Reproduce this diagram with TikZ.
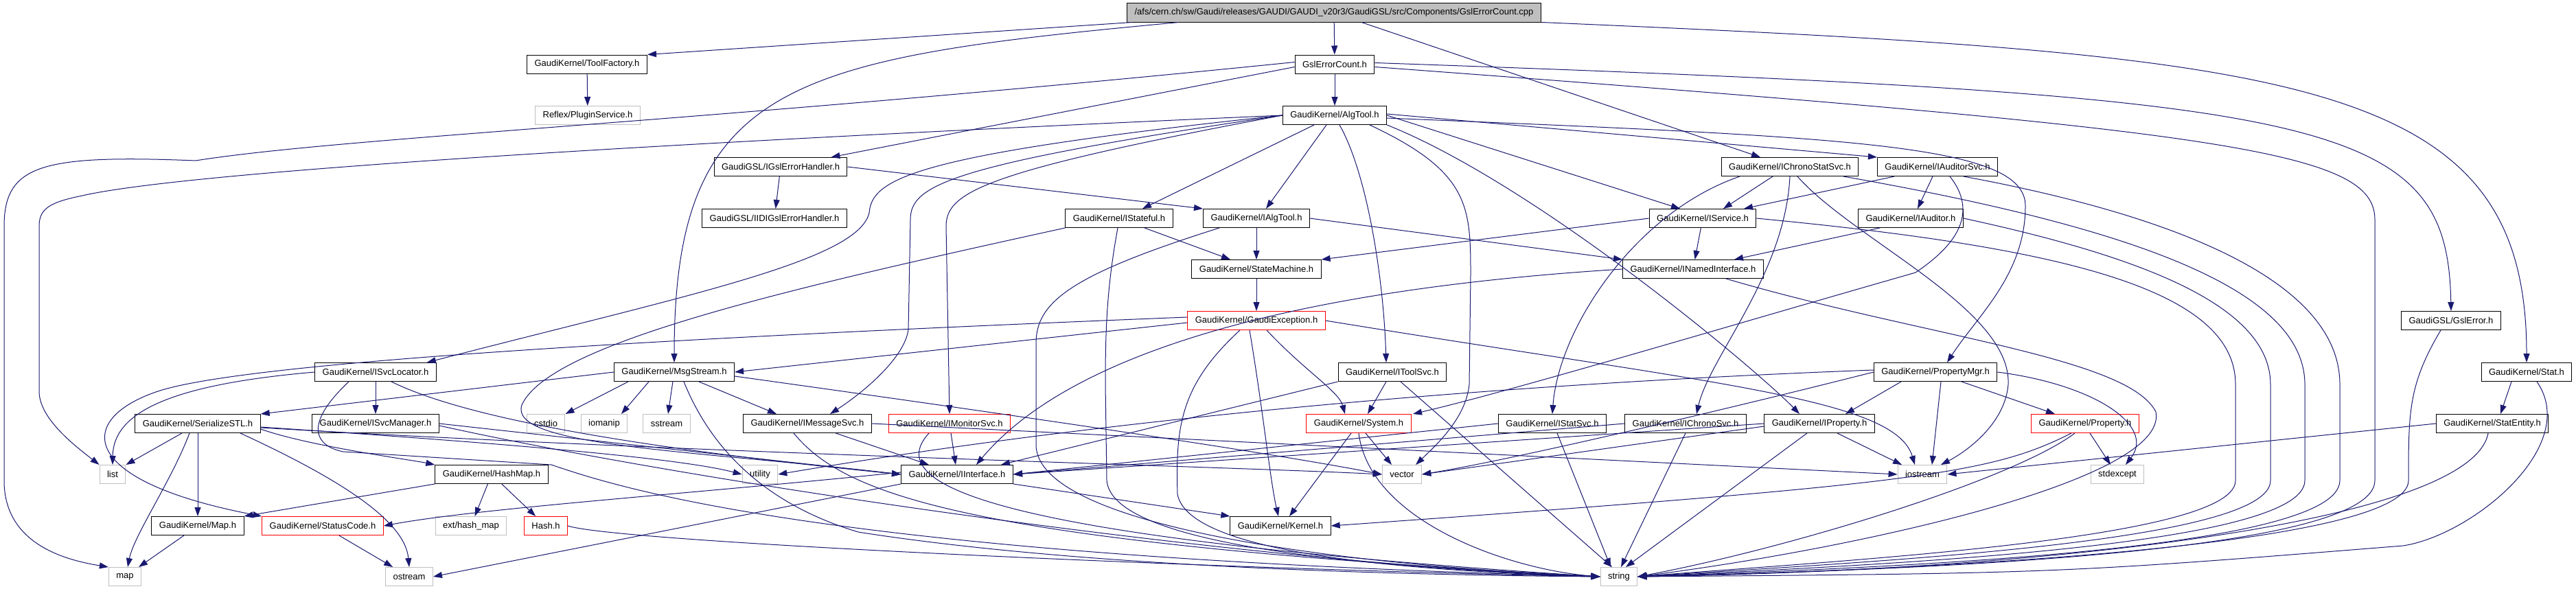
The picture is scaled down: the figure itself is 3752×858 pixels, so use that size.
\documentclass[tikz,border=0pt]{standalone}
\usepackage{fontspec}
\setmainfont{Liberation Sans}
\usetikzlibrary{arrows.meta}
\definecolor{dxedge}{HTML}{191970}
\definecolor{dxgray}{HTML}{BFBFBF}
\begin{document}
\begin{tikzpicture}[x=1bp,y=-1bp,
		hdr/.style={draw=black, line width=1bp, inner xsep=11bp, inner ysep=0pt, minimum height=27bp, font=\fontsize{13bp}{15bp}\selectfont},
		sys/.style={hdr, draw=dxgray},
		trunc/.style={hdr, draw=red},
		topfile/.style={hdr, fill=dxgray},
		inc/.style={draw=dxedge, line width=1bp, -{Triangle[length=13bp,width=9bp]}}
		]
	\fill[white] (0,0) rectangle (3752,858);
	\useasboundingbox (0,0) rectangle (3752,858);
	\node[topfile] (root) at (1943,18.5) {/afs/cern.ch/sw/Gaudi/releases/GAUDI/GAUDI\_v20r3/GaudiGSL/src/Components/GslErrorCount.cpp};
	\node[hdr] (toolfac) at (855,93.5) {GaudiKernel/ToolFactory.h};
	\node[hdr] (gslcnt) at (1944,93.5) {GslErrorCount.h};
	\node[sys] (plugin) at (856,168) {Reflex/PluginService.h};
	\node[hdr] (algtool) at (1944,168) {GaudiKernel/AlgTool.h};
	\node[hdr] (igslh) at (1137,243) {GaudiGSL/IGslErrorHandler.h};
	\node[hdr] (ichronostat) at (2607,243) {GaudiKernel/IChronoStatSvc.h};
	\node[hdr] (iauditorsvc) at (2822,243) {GaudiKernel/IAuditorSvc.h};
	\node[hdr] (iidigslh) at (1128,318) {GaudiGSL/IIDIGslErrorHandler.h};
	\node[hdr] (istateful) at (1630,318) {GaudiKernel/IStateful.h};
	\node[hdr] (ialgtool) at (1830,318) {GaudiKernel/IAlgTool.h};
	\node[hdr] (iservice) at (2480,318) {GaudiKernel/IService.h};
	\node[hdr] (iauditor) at (2783,318) {GaudiKernel/IAuditor.h};
	\node[hdr] (statemach) at (1830,392) {GaudiKernel/StateMachine.h};
	\node[hdr] (inamed) at (2466,392) {GaudiKernel/INamedInterface.h};
	\node[trunc] (gaudiexc) at (1830,467) {GaudiKernel/GaudiException.h};
	\node[hdr] (gslerror) at (3570,467) {GaudiGSL/GslError.h};
	\node[hdr] (isvcloc) at (547,542) {GaudiKernel/ISvcLocator.h};
	\node[hdr] (msgstream) at (982,542) {GaudiKernel/MsgStream.h};
	\node[hdr] (itoolsvc) at (2028,542) {GaudiKernel/IToolSvc.h};
	\node[hdr] (propmgr) at (2819,542) {GaudiKernel/PropertyMgr.h};
	\node[hdr] (stat) at (3680,542) {GaudiKernel/Stat.h};
	\node[hdr] (serial) at (288,617) {GaudiKernel/SerializeSTL.h};
	\node[hdr] (isvcmgr) at (547,617) {GaudiKernel/ISvcManager.h};
	\node[sys] (cstdio) at (795,617) {cstdio};
	\node[sys] (iomanip) at (880,617) {iomanip};
	\node[sys] (sstream) at (971,617) {sstream};
	\node[hdr] (imsgsvc) at (1176,617) {GaudiKernel/IMessageSvc.h};
	\node[trunc] (imonsvc) at (1383,617) {GaudiKernel/IMonitorSvc.h};
	\node[trunc] (system) at (1979,617) {GaudiKernel/System.h};
	\node[hdr] (istatsvc) at (2261,617) {GaudiKernel/IStatSvc.h};
	\node[hdr] (ichronosvc) at (2455,617) {GaudiKernel/IChronoSvc.h};
	\node[hdr] (iproperty) at (2650,617) {GaudiKernel/IProperty.h};
	\node[trunc] (property) at (3037,617) {GaudiKernel/Property.h};
	\node[hdr] (statentity) at (3630,617) {GaudiKernel/StatEntity.h};
	\node[sys] (list) at (164,691) {list};
	\node[hdr] (hashmap) at (716,691) {GaudiKernel/HashMap.h};
	\node[sys] (utility) at (1107,691) {utility};
	\node[hdr] (iinterface) at (1394,691) {GaudiKernel/IInterface.h};
	\node[sys] (vector) at (2042,691) {vector};
	\node[sys] (iostream) at (2800,691) {iostream};
	\node[sys] (stdexcept) at (3084,691) {stdexcept};
	\node[hdr] (mapx) at (288,766) {GaudiKernel/Map.h};
	\node[trunc] (statuscode) at (470,766) {GaudiKernel/StatusCode.h};
	\node[sys] (hashext) at (686,766) {ext/hash\_map};
	\node[trunc] (hash) at (795,766) {Hash.h};
	\node[hdr] (kernel) at (1865,766) {GaudiKernel/Kernel.h};
	\node[sys] (map) at (182,840) {map};
	\node[sys] (ostream) at (596,840) {ostream};
	\node[sys] (string) at (2358,840) {string};
	\draw[inc] ([xshift=8bp]root.south west) -- (toolfac.north east);
	\draw[inc] (root) -- (gslcnt);
	\draw[inc] ([xshift=76bp]root.south west) .. controls (1150,85) and (982,120) .. (msgstream.north);
	\draw[inc] ([xshift=40bp]root.south) -- ([xshift=-43bp]ichronostat.north);
	\draw[inc] (root.south east) .. controls (3350,80) and (3680,110) .. (stat.north);
	\draw[inc] (toolfac) -- (plugin);
	\draw[inc] (gslcnt) -- (algtool);
	\draw[inc] ([yshift=-4bp]gslcnt.west) -- ([xshift=-24bp]igslh.north east);
	\draw[inc] ([yshift=3bp]gslcnt.west) .. controls (1000,180) and (500,200) .. (285,234) .. controls (60,225) and (6,240) .. (6,330) -- (6,700) .. controls (6,790) and (90,815) .. (map.north west);
	\draw[inc] ([yshift=2bp]gslcnt.east) .. controls (3400,140) and (3565,170) .. (gslerror.north);
	\draw[inc] ([yshift=-4bp]gslcnt.east) .. controls (3250,190) and (3459,220) .. (3459,320) -- (3459,700) .. controls (3459,805) and (2800,830) .. (string.east);
	\draw[inc] (algtool.west) .. controls (800,215) and (250,255) .. (120,285) .. controls (70,295) and (57,305) .. (57,330) -- (57,570) .. controls (57,610) and (110,650) .. (list.north west);
	\draw[inc] (algtool.west) .. controls (1330,225) and (1270,260) .. (1266,310) .. controls (1250,380) and (1000,430) .. ([xshift=-14bp]isvcloc.north east);
	\draw[inc] (algtool.west) .. controls (1380,240) and (1326,270) .. (1326,320) -- (1323,480) .. controls (1318,520) and (1260,570) .. ([xshift=33bp]imsgsvc.north);
	\draw[inc] (algtool.west) .. controls (1430,250) and (1378,280) .. (1378,330) -- (imonsvc.north);
	\draw[inc] ([xshift=-30bp]algtool.south) -- ([xshift=34bp]istateful.north);
	\draw[inc] ([xshift=-12bp]algtool.south) -- ([xshift=14bp]ialgtool.north);
	\draw[inc] ([xshift=7bp]algtool.south) .. controls (1990,250) and (2015,400) .. ([xshift=-9bp]itoolsvc.north);
	\draw[inc] ([xshift=51bp]algtool.south) .. controls (2140,250) and (2142,300) .. (2142,400) -- (2140,560) .. controls (2135,610) and (2090,650) .. ([xshift=20bp]vector.north);
	\draw[inc] (algtool.south east) .. controls (2240,270) and (2560,540) .. ([xshift=-29bp]iproperty.north);
	\draw[inc] (algtool.east) -- ([xshift=-33bp]iservice.north);
	\draw[inc] ([yshift=2bp]algtool.east) -- (iauditorsvc.north west);
	\draw[inc] ([yshift=-4bp]algtool.east) .. controls (2700,200) and (2950,210) .. (2950,300) .. controls (2950,400) and (2880,460) .. ([xshift=17bp]propmgr.north);
	\draw[inc] (igslh) -- (iidigslh);
	\draw[inc] (igslh.east) -- (ialgtool.north west);
	\draw[inc] ([xshift=-73bp]ichronostat.south) .. controls (2380,310) and (2270,480) .. (istatsvc.north);
	\draw[inc] ([xshift=-25bp]ichronostat.south) -- ([xshift=30bp]iservice.north);
	\draw[inc] (ichronostat.south) .. controls (2600,400) and (2490,520) .. ([xshift=16bp]ichronosvc.north);
	\draw[inc] ([xshift=11bp]ichronostat.south) .. controls (2700,350) and (2930,450) .. (2925,560) .. controls (2920,620) and (2860,660) .. ([xshift=27bp]iostream.north);
	\draw[inc] ([xshift=78bp]ichronostat.south) .. controls (3100,330) and (3357,420) .. (3357,560) -- (3357,700) .. controls (3357,795) and (2760,822) .. (string.east);
	\draw[inc] ([xshift=-63bp]iauditorsvc.south) -- ([xshift=60bp]iservice.north);
	\draw[inc] ([xshift=-7bp]iauditorsvc.south) -- ([xshift=10bp]iauditor.north);
	\draw[inc] ([xshift=18bp]iauditorsvc.south) .. controls (2890,320) and (2830,370) .. (2790,397) .. controls (2500,480) and (2200,570) .. ([xshift=79bp]system.north);
	\draw[inc] ([xshift=38bp]iauditorsvc.south) .. controls (3200,320) and (3408,420) .. (3408,560) -- (3408,700) .. controls (3408,800) and (2780,826) .. (string.east);
	\draw[inc] (iservice) -- (inamed);
	\draw[inc] (iservice.west) -- (statemach.north east);
	\draw[inc] (iservice.east) .. controls (3000,360) and (3256,420) .. (3256,560) -- (3256,700) .. controls (3256,785) and (2700,815) .. (string.east);
	\draw[inc] ([xshift=-45bp]iauditor.south) -- ([xshift=60bp]inamed.north);
	\draw[inc] (iauditor.east) .. controls (3100,370) and (3307,440) .. (3307,560) -- (3307,700) .. controls (3307,790) and (2730,818) .. (string.east);
	\draw[inc] (ialgtool) -- (statemach);
	\draw[inc] (ialgtool.east) -- (inamed.north west);
	\draw[inc] ([xshift=-54bp]ialgtool.south) .. controls (1560,400) and (1509,440) .. (1509,500) -- (1509,650) .. controls (1515,760) and (1900,820) .. (string.west);
	\draw[inc] ([xshift=37bp]istateful.south) -- ([xshift=-38bp]statemach.north);
	\draw[inc] (istateful.south west) .. controls (1150,420) and (800,500) .. (760,590) .. controls (740,650) and (1000,655) .. (iinterface.west);
	\draw[inc] ([xshift=-2bp]istateful.south) .. controls (1612,420) and (1610,480) .. (1610,560) -- (1612,700) .. controls (1620,790) and (1950,825) .. (string.west);
	\draw[inc] (statemach) -- (gaudiexc);
	\draw[inc] ([yshift=-3bp]gaudiexc.west) -- (msgstream.east);
	\draw[inc] ([yshift=5bp]gaudiexc.west) .. controls (900,495) and (350,530) .. (230,570) .. controls (110,610) and (110,700) .. (statuscode.north west);
	\draw[inc] ([xshift=-10bp]gaudiexc.south) .. controls (1840,600) and (1850,700) .. ([xshift=-3bp]kernel.north);
	\draw[inc] ([xshift=15bp]gaudiexc.south) .. controls (1900,540) and (1950,570) .. ([xshift=-20bp]system.north);
	\draw[inc] (gaudiexc.east) .. controls (2500,560) and (2760,580) .. ([xshift=-11bp]iostream.north);
	\draw[inc] ([xshift=-24bp]gaudiexc.south) .. controls (1720,560) and (1712,620) .. (1715,720) .. controls (1730,800) and (2000,830) .. (string.west);
	\draw[inc] (msgstream.west) -- (serial.north east);
	\draw[inc] ([xshift=-67bp]msgstream.south) -- (cstdio.north east);
	\draw[inc] ([xshift=-37bp]msgstream.south) -- ([xshift=25bp]iomanip.north);
	\draw[inc] (msgstream) -- (sstream);
	\draw[inc] ([xshift=36bp]msgstream.south) -- ([xshift=-45bp]imsgsvc.north);
	\draw[inc] ([yshift=-6bp]msgstream.east) .. controls (1300,580) and (1800,650) .. (vector.west);
	\draw[inc] ([xshift=14bp]msgstream.south) .. controls (1030,640) and (1100,730) .. (1250,775) .. controls (1600,830) and (2100,838) .. (string.west);
	\draw[inc] (isvcloc) -- (isvcmgr);
	\draw[inc] (isvcloc.west) .. controls (250,560) and (165,600) .. (list.north);
	\draw[inc] ([xshift=-39bp]isvcloc.south) .. controls (440,620) and (460,650) .. (500,658) -- (803,677) .. controls (900,710) and (1200,810) .. (string.west);
	\draw[inc] ([xshift=23bp]isvcloc.south) .. controls (640,590) and (800,640) .. (iinterface.west);
	\draw[inc] (isvcmgr.east) -- (iinterface.west);
	\draw[inc] ([yshift=-3bp]isvcmgr.east) .. controls (1000,700) and (1800,820) .. (string.west);
	\draw[inc] ([xshift=-23bp]serial.south) -- (list.north east);
	\draw[inc] ([xshift=-12bp]serial.south) .. controls (250,700) and (195,780) .. ([xshift=4bp]map.north);
	\draw[inc] (serial) -- (mapx);
	\draw[inc] ([xshift=62bp]serial.south) .. controls (500,700) and (590,760) .. (ostream.north);
	\draw[inc] ([yshift=-8bp]serial.east) .. controls (450,650) and (600,670) .. (hashmap.north west);
	\draw[inc] ([yshift=-6bp]serial.east) .. controls (1000,660) and (1800,680) .. (vector.west);
	\draw[inc] ([yshift=-5bp]serial.east) .. controls (800,650) and (1000,670) .. (utility.west);
	\draw[inc] (hashmap.south west) -- (mapx.north east);
	\draw[inc] (hashmap) -- (hashext);
	\draw[inc] (hashmap) -- (hash);
	\draw[inc] (mapx) -- (map);
	\draw[inc] (statuscode) -- (ostream);
	\draw[inc] (hash.east) .. controls (900,790) and (1800,830) .. (string.west);
	\draw[inc] (imsgsvc) -- (iinterface);
	\draw[inc] ([xshift=-20bp]imsgsvc.south) .. controls (1230,720) and (1400,790) .. (string.west);
	\draw[inc] (imsgsvc.east) -- (iostream.west);
	\draw[inc] (imonsvc) -- (iinterface);
	\draw[inc] ([xshift=-30bp]imonsvc.south) .. controls (1290,700) and (1400,780) .. (string.west);
	\draw[inc] (itoolsvc.south west) -- ([xshift=64bp]iinterface.north);
	\draw[inc] ([xshift=-9bp]itoolsvc.south) -- ([xshift=13bp]system.north);
	\draw[inc] ([xshift=12bp]itoolsvc.south) -- ([xshift=-10bp]string.north);
	\draw[inc] ([xshift=-11bp]system.south) -- ([xshift=13bp]kernel.north);
	\draw[inc] ([xshift=10bp]system.south) -- ([xshift=-15bp]vector.north);
	\draw[inc] (system.south) .. controls (1995,760) and (2200,830) .. (string.west);
	\draw[inc] (istatsvc.west) -- (iinterface.east);
	\draw[inc] ([xshift=7bp]istatsvc.south) -- ([xshift=-12bp]string.north);
	\draw[inc] (ichronosvc.west) -- (iinterface.east);
	\draw[inc] (ichronosvc.south) -- ([xshift=3bp]string.north);
	\draw[inc] (iproperty.west) -- (iinterface.east);
	\draw[inc] ([xshift=-18bp]iproperty.south) -- ([xshift=10bp]string.north);
	\draw[inc] ([xshift=26bp]iproperty.south) -- ([xshift=-30bp]iostream.north);
	\draw[inc] ([yshift=-4bp]iproperty.west) -- (vector.east);
	\draw[inc] ([xshift=-50bp]propmgr.south) -- ([xshift=38bp]iproperty.north);
	\draw[inc] ([xshift=38bp]propmgr.south) -- ([xshift=-44bp]property.north);
	\draw[inc] ([xshift=8bp]propmgr.south) -- ([xshift=14bp]iostream.north);
	\draw[inc] (propmgr.east) .. controls (3050,560) and (3140,620) .. ([xshift=12bp]stdexcept.north);
	\draw[inc] (propmgr.west) .. controls (2500,600) and (2200,670) .. (vector.east);
	\draw[inc] ([yshift=3bp]propmgr.west) .. controls (2300,555) and (1700,595) .. (utility.east);
	\draw[inc] ([xshift=7bp]property.south) -- ([xshift=-10bp]stdexcept.north);
	\draw[inc] ([xshift=-20bp]property.south) .. controls (2900,690) and (2800,705) .. (kernel.east);
	\draw[inc] ([xshift=-15bp]property.south) .. controls (2930,700) and (2600,800) .. (string.east);
	\draw[inc] ([xshift=-15bp]gslerror.south) .. controls (3508,560) and (3508,600) .. (3508,700) .. controls (3508,795) and (2820,830) .. (string.east);
	\draw[inc] ([xshift=-22bp]stat.south) -- ([xshift=12bp]statentity.north);
	\draw[inc] ([xshift=15bp]stat.south) .. controls (3760,650) and (3600,780) .. (3500,795) .. controls (3000,835) .. (string.east);
	\draw[inc] (statentity.west) -- (iostream.east);
	\draw[inc] ([xshift=-6bp]statentity.south) .. controls (3600,760) and (3000,830) .. (string.east);
	\draw[inc] (inamed.west) .. controls (1750,430) and (1520,560) .. ([xshift=28bp]iinterface.north);
	\draw[inc] ([xshift=48bp]inamed.south) .. controls (2800,490) and (3100,520) .. (3140,600) .. controls (3160,700) and (2700,800) .. (string.east);
	\draw[inc] (iinterface.south east) -- (kernel.north west);
	\draw[inc] ([yshift=3bp]iinterface.west) .. controls (1000,720) and (700,740) .. (statuscode.east);
	\draw[inc] (iinterface.south west) -- (ostream.east);
\end{tikzpicture}
\end{document}
